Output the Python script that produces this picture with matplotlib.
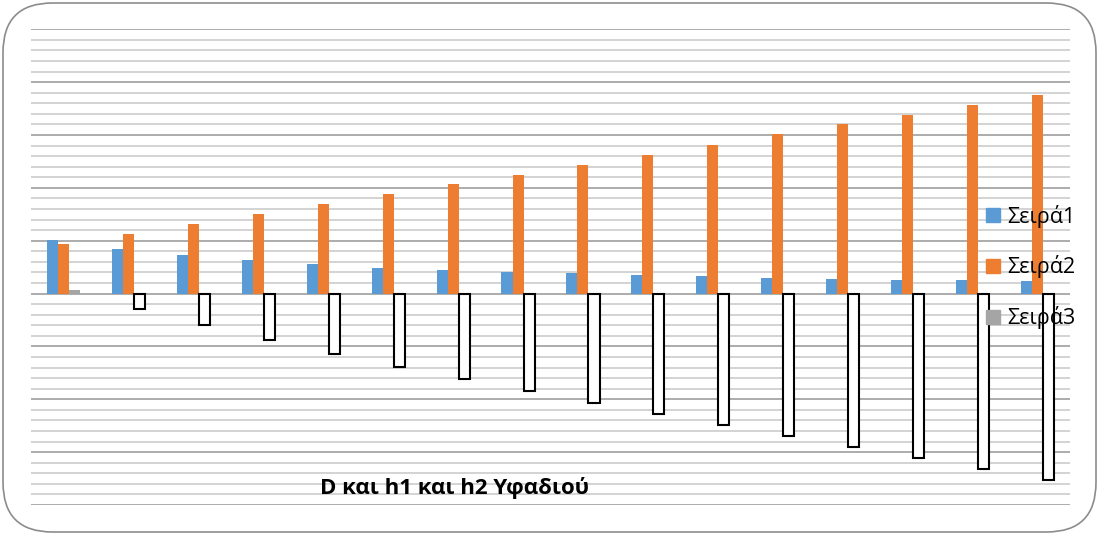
import numpy as np
import matplotlib.pyplot as plt
from matplotlib.patches import FancyBboxPatch, Patch
from matplotlib.ticker import MultipleLocator

plt.rcParams['font.family'] = ['Open Sans', 'DejaVu Sans']

# values per category (16 groups)
categories = list(range(1, 17))
seira1 = [5.08, 4.20, 3.63, 3.15, 2.78, 2.46, 2.27, 2.08,
          1.96, 1.77, 1.64, 1.51, 1.42, 1.32, 1.26, 1.20]
seira2 = [4.67, 5.62, 6.56, 7.51, 8.45, 9.40, 10.35, 11.26,
          12.20, 13.15, 14.10, 15.05, 16.00, 16.90, 17.86, 18.77]
seira3 = [0.38, -1.42, -2.93, -4.38, -5.68, -6.91, -8.08, -9.18,
          -10.32, -11.39, -12.46, -13.50, -14.50, -15.58, -16.59, -17.63]
labels = ['Σειρά1', 'Σειρά2', 'Σειρά3']
title = 'D και h1 και h2 Υφαδιού'

blue = '#5b9bd5'
orange = '#ed7d31'
gray = '#a5a5a5'

fig = plt.figure(figsize=(10.99, 5.35), dpi=100)

# rounded chart-area border
border = FancyBboxPatch((3 / 1099, 3 / 535), 1093 / 1099, 529 / 535,
                        boxstyle='round,pad=0,rounding_size=0.045',
                        transform=fig.transFigure, facecolor='white',
                        edgecolor='#8c8c8c', linewidth=1.2,
                        mutation_aspect=1099 / 535, zorder=-1)
fig.patches.append(border)

ax = fig.add_axes([31 / 1099, 30 / 535, 1039 / 1099, 475.7 / 535])
ax.set_facecolor('none')

x = np.arange(len(categories))
w = 0.17
ax.bar(x - w, seira1, w, color=blue, zorder=3)
ax.bar(x, seira2, w, color=orange, zorder=3)
# negative values of the third series are drawn inverted (white, black edge)
s3 = np.array(seira3)
neg = s3 < 0
ax.bar(x[~neg] + w, s3[~neg], w, color=gray, zorder=3)
ax.bar(x[neg] + w, s3[neg], w, facecolor='white', edgecolor='black',
       linewidth=1.5, zorder=3)

ax.set_xlim(-0.5, len(categories) - 0.5)
ax.set_ylim(-20, 25)
ax.yaxis.set_major_locator(MultipleLocator(5))
ax.yaxis.set_minor_locator(MultipleLocator(1))
ax.grid(True, which='minor', axis='y', color='#d0d0d0', linewidth=1.3, zorder=0)
ax.grid(True, which='major', axis='y', color='#a6a6a6', linewidth=1.3, zorder=1)
ax.tick_params(which='both', left=False, bottom=False,
               labelleft=False, labelbottom=False)
for s in ax.spines.values():
    s.set_visible(False)

handles = [Patch(color=c) for c in (blue, orange, gray)]
fig.legend(handles, labels, loc='center left',
           bbox_to_anchor=(975 / 1099, 1 - 267 / 535), frameon=False,
           fontsize=15.5, handlelength=0.65, handleheight=0.65,
           handletextpad=0.35, labelspacing=1.3, borderpad=0)

fig.text(455 / 1099, 1 - 488 / 535, title, ha='center', va='center',
         fontsize=16, fontweight='bold')

fig.savefig('out.png', dpi=100)
